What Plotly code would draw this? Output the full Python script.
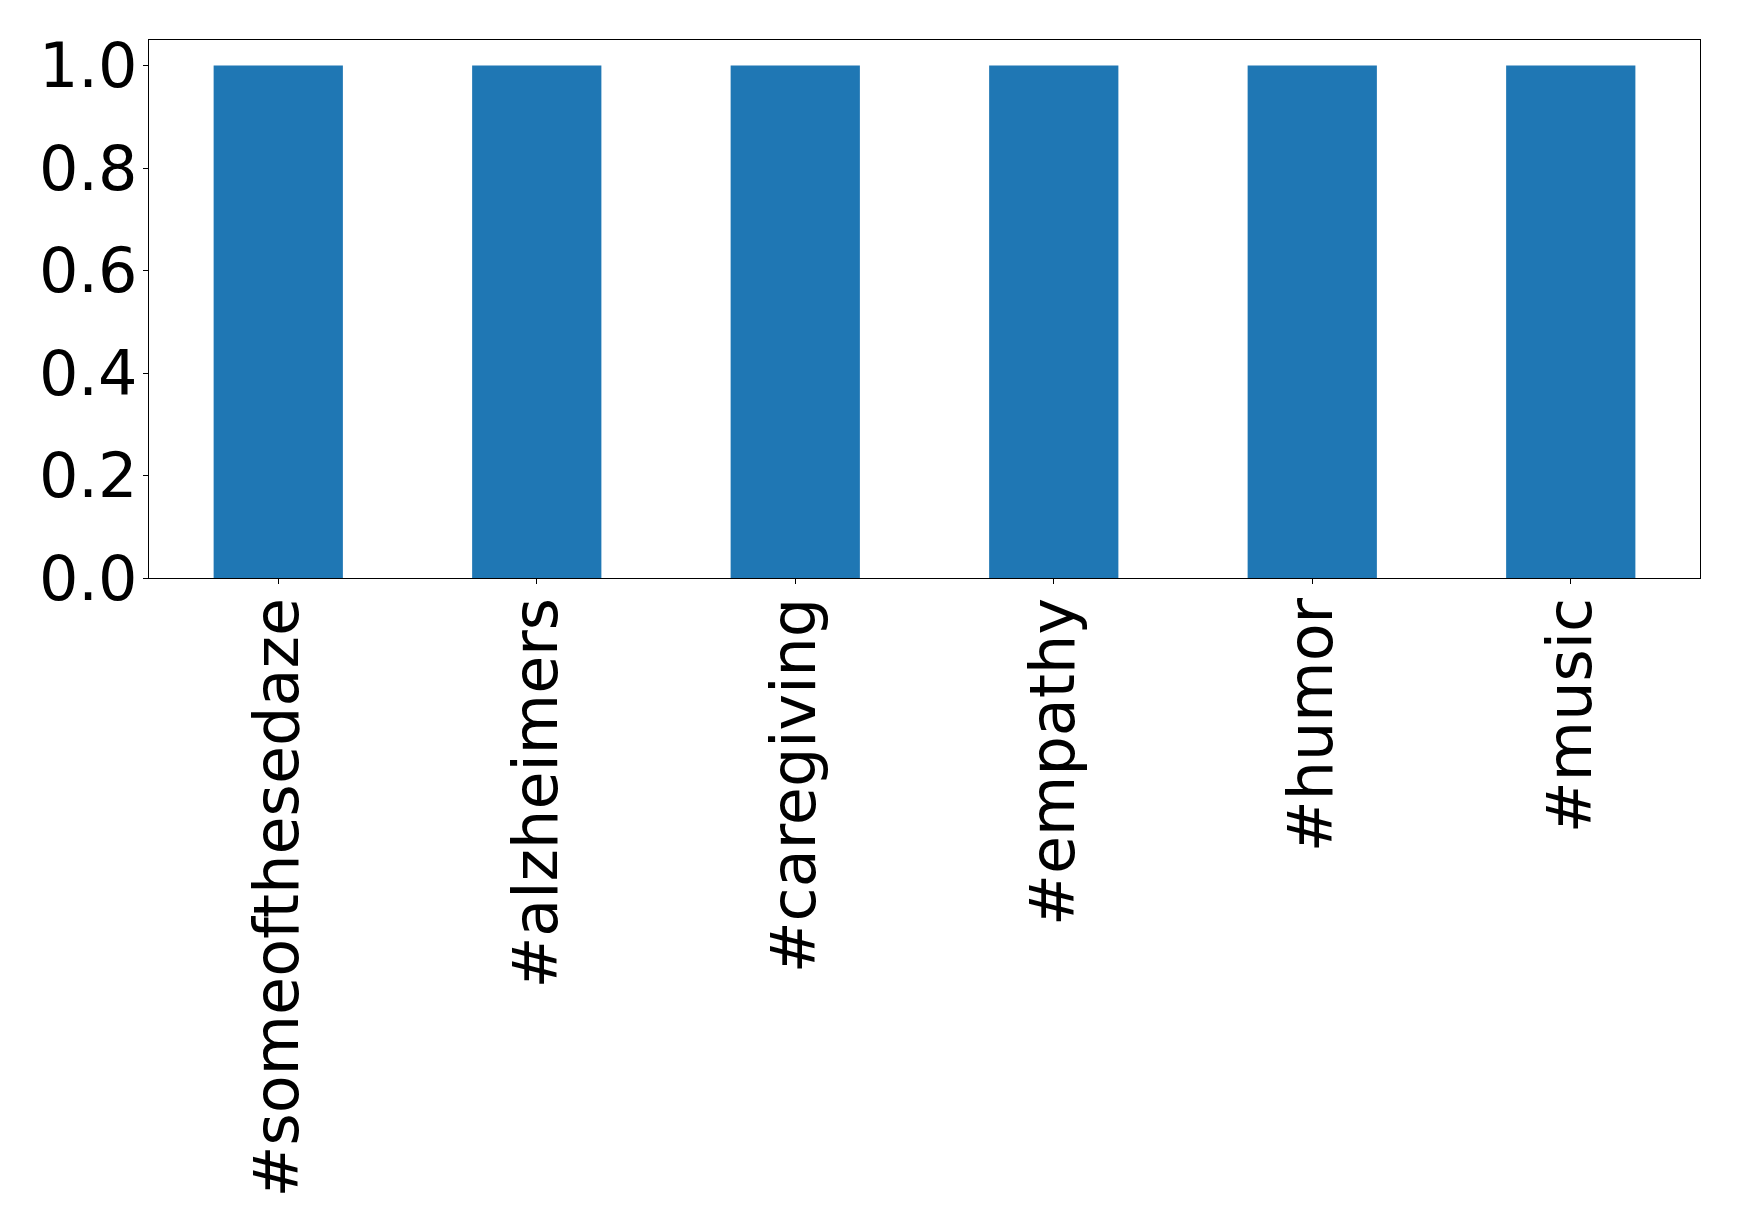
import plotly.graph_objects as go

categories = ["#someofthesedaze", "#alzheimers", "#caregiving", "#empathy", "#humor", "#music"]
values = [1, 1, 1, 1, 1, 1]
y_ticks = [0.0, 0.2, 0.4, 0.6, 0.8, 1.0]
y_tick_labels = ["0.0", "0.2", "0.4", "0.6", "0.8", "1.0"]

fig = go.Figure(go.Bar(x=categories, y=values, width=0.5, marker=dict(color="#1f77b4", line=dict(width=0))))

font = dict(family="DejaVu Sans", size=62, color="black")
fig.update_layout(
    width=1739, height=1232,
    margin=dict(l=141, r=47, t=32, b=662),
    plot_bgcolor="white", paper_bgcolor="white",
    font=font, showlegend=False, bargap=0.5,
)
fig.update_xaxes(
    type="category", range=[-0.5, 5.5], tickangle=-90,
    showline=True, linecolor="black", linewidth=1.2, mirror=True,
    ticks="outside", ticklen=5, tickwidth=1.2, tickcolor="black",
    ticklabelstandoff=-11, showgrid=False, tickfont=font,
)
fig.update_yaxes(
    range=[0, 1.05], tickvals=y_ticks, ticktext=y_tick_labels,
    showline=True, linecolor="black", linewidth=1.2, mirror=True,
    ticks="outside", ticklen=5, tickwidth=1.2, tickcolor="black",
    ticklabelstandoff=-7, showgrid=False, zeroline=False, tickfont=font,
)
fig.write_html("out.html")
